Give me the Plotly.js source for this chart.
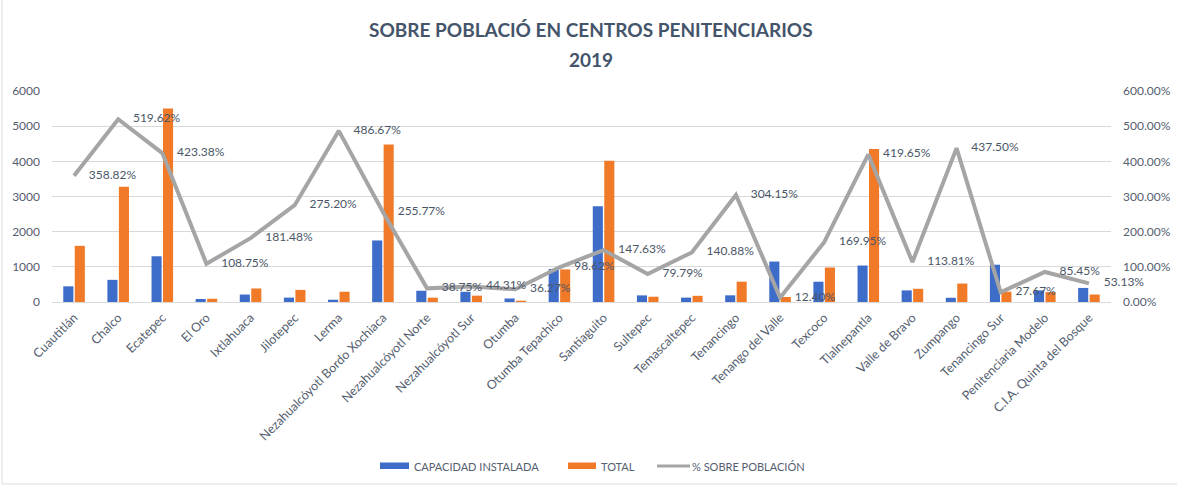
<!DOCTYPE html>
<html>
<head>
<meta charset="utf-8">
<script src="https://cdn.plot.ly/plotly-3.0.1.min.js"></script>
<style>html,body{margin:0;padding:0;background:#fff;}#chart{width:1177px;height:487px;}</style>
</head>
<body>
<div id="chart"></div>
<script>
var categories = ["Cuautitlán","Chalco","Ecatepec","El Oro","Ixtlahuaca","Jilotepec","Lerma","Nezahualcóyotl Bordo Xochiaca","Nezahualcóyotl Norte","Nezahualcóyotl Sur","Otumba","Otumba Tepachico","Santiaguito","Sultepec","Temascaltepec","Tenancingo","Tenango del Valle","Texcoco","Tlalnepantla","Valle de Bravo","Zumpango","Tenancingo Sur","Penitenciaria Modelo","C.I.A. Quinta del Bosque"];
var capacidad = [445,630,1300,85,212,125,65,1750,320,290,100,940,2720,188,125,190,1150,577,1037,330,120,1060,330,400];
var total = [1597,3274,5504,92,385,344,292,4476,124,180,38,927,4016,150,176,578,143,981,4352,376,525,293,282,213];
var pctSobre = [358.82,519.62,423.38,108.75,181.48,275.20,486.67,255.77,38.75,44.31,36.27,98.62,147.63,79.79,140.88,304.15,12.40,169.95,419.65,113.81,437.50,27.67,85.45,53.13];
var legendNames = ['CAPACIDAD INSTALADA','TOTAL','% SOBRE POBLACIÓN'];

var FONT = "Lato, 'Open Sans', sans-serif";
var BLUE = '#3d6cc9', ORANGE = '#f07a28', GRAY = '#a5a5a5';
var TXT = '#55606f';
var traces = [
  {type:'bar', name:legendNames[0], x:categories, y:capacidad, marker:{color:BLUE}},
  {type:'bar', name:legendNames[1], x:categories, y:total, marker:{color:ORANGE}},
  {type:'scatter', name:legendNames[2], x:categories, y:pctSobre, yaxis:'y2',
   mode:'lines+markers+text', line:{color:GRAY, width:4},
   marker:{size:22, opacity:0, color:GRAY},
   text: pctSobre.map(function(v){return v.toFixed(2)+'%';}),
   textposition:'middle right', cliponaxis:false,
   textfont:{family:FONT, size:12, color:'#4b5668'}}
];

// plot area: x 52..1111 px, y 91..302 px
function px(x){return (x-52)/1059;}
function py(y){return (302-y)/211;}

var shapes = [
  {type:'rect', xref:'paper', yref:'paper', x0:px(2), x1:px(1200), y0:py(484), y1:py(-20), line:{color:'#d9dde3', width:1}, fillcolor:'rgba(0,0,0,0)', layer:'below'},
  {type:'rect', xref:'paper', yref:'paper', x0:px(380), x1:px(409), y0:py(469), y1:py(462.5), line:{width:0}, fillcolor:BLUE},
  {type:'rect', xref:'paper', yref:'paper', x0:px(568), x1:px(596), y0:py(469), y1:py(462.5), line:{width:0}, fillcolor:ORANGE},
  {type:'line', xref:'paper', yref:'paper', x0:px(657), x1:px(690), y0:py(466), y1:py(466), line:{color:GRAY, width:3}}
];
var annotations = [
  {text:'<b>2019</b>', xref:'paper', yref:'paper', x:px(591), y:py(59), xanchor:'center', yanchor:'middle',
   showarrow:false, font:{family:FONT, size:19, color:'#44546a'}},
  {text:legendNames[0], xref:'paper', yref:'paper', x:px(412), y:py(466), xanchor:'left', yanchor:'middle', showarrow:false, font:{family:FONT, size:11, color:TXT}},
  {text:legendNames[1], xref:'paper', yref:'paper', x:px(599), y:py(466), xanchor:'left', yanchor:'middle', showarrow:false, font:{family:FONT, size:11, color:TXT}},
  {text:legendNames[2], xref:'paper', yref:'paper', x:px(690), y:py(466), xanchor:'left', yanchor:'middle', showarrow:false, font:{family:FONT, size:11, color:TXT}}
];

var layout = {
  width:1177, height:487,
  margin:{l:52, r:66, t:91, b:185, autoexpand:false},
  paper_bgcolor:'#ffffff', plot_bgcolor:'#ffffff',
  font:{family:FONT, color:TXT},
  title:{text:'SOBRE POBLACIÓ EN CENTROS PENITENCIARIOS', x:0.502, xanchor:'center', y:1-30/487, yanchor:'middle',
         font:{family:FONT, size:19, color:'#44546a', weight:'bold'}},
  annotations:annotations,
  shapes:shapes,
  barmode:'group', bargap:0.48, bargroupgap:0.12,
  xaxis:{range:[-0.5, categories.length-0.5], tickangle:-45, tickfont:{size:12.5, color:TXT}, showgrid:false, showline:false, ticks:'', ticklabelstandoff:5, automargin:false},
  yaxis:{range:[0,6000], dtick:1000, tickfont:{size:12, color:TXT}, gridcolor:'#d9d9d9', gridwidth:1,
         zeroline:true, zerolinecolor:'#d9d9d9', showline:false, ticks:'', ticklabelstandoff:11, automargin:false},
  yaxis2:{range:[0,600], dtick:100, overlaying:'y', side:'right', tickformat:'.2f', ticksuffix:'%',
          tickfont:{size:12, color:TXT}, showgrid:false, zeroline:false, showline:false, ticks:'', ticklabelstandoff:11, automargin:false},
  showlegend:false
};
Plotly.newPlot('chart', traces, layout, {displayModeBar:false, staticPlot:true});
</script>
</body>
</html>
